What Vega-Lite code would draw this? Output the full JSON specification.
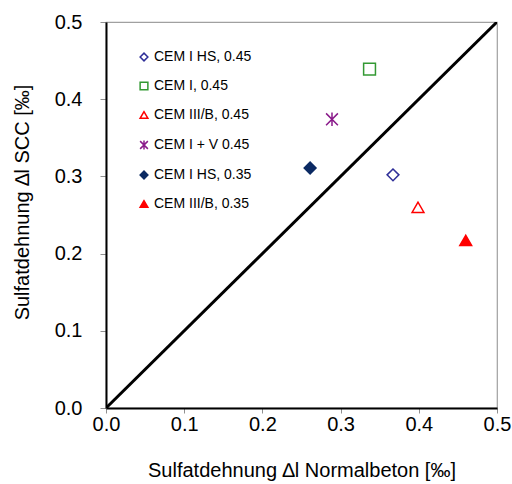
{
  "$schema": "https://vega.github.io/schema/vega-lite/v6.json",
  "width": 391,
  "height": 386,
  "autosize": {"type": "none"},
  "padding": {"left": 106, "top": 22, "right": 15, "bottom": 76},
  "background": "white",
  "config": {
    "font": "Liberation Sans",
    "view": {"stroke": "#a0a0a0", "strokeWidth": 1.2},
    "axis": {
      "grid": false,
      "labelFlush": false,
      "labelOverlap": false,
      "domainColor": "black",
      "domainWidth": 2,
      "tickColor": "#909090",
      "tickWidth": 1,
      "labelFont": "Liberation Sans",
      "titleFont": "Liberation Sans",
      "labelFontSize": 20,
      "titleFontSize": 20,
      "labelColor": "black",
      "titleColor": "black",
      "titleFontWeight": "normal"
    },
    "legend": {
      "orient": "none",
      "legendX": 31,
      "legendY": 28,
      "padding": 0,
      "labelFont": "Liberation Sans",
      "labelFontSize": 14,
      "labelColor": "black",
      "symbolSize": 60,
      "symbolStrokeWidth": 1.5,
      "rowPadding": 15,
      "labelOffset": 3,
      "labelLimit": 300
    }
  },
  "datasets": {
    "points": [
      {"nb": 0.367, "scc": 0.302, "series": "CEM I HS, 0.45"},
      {"nb": 0.337, "scc": 0.439, "series": "CEM I, 0.45"},
      {"nb": 0.399, "scc": 0.26, "series": "CEM III/B, 0.45"},
      {"nb": 0.289, "scc": 0.374, "series": "CEM I + V 0.45"},
      {"nb": 0.261, "scc": 0.311, "series": "CEM I HS, 0.35"},
      {"nb": 0.46, "scc": 0.217, "series": "CEM III/B, 0.35"}
    ],
    "diagonal": [
      {"nb": 0, "scc": 0},
      {"nb": 0.5, "scc": 0.5}
    ]
  },
  "layer": [
    {
      "data": {"name": "diagonal"},
      "mark": {"type": "line", "color": "black", "strokeWidth": 3, "clip": true},
      "encoding": {
        "x": {"field": "nb", "type": "quantitative"},
        "y": {"field": "scc", "type": "quantitative"}
      }
    },
    {
      "data": {"name": "points"},
      "mark": {"type": "point", "size": 140, "strokeWidth": 1.5, "opacity": 1},
      "encoding": {
        "x": {
          "field": "nb",
          "type": "quantitative",
          "scale": {"domain": [0, 0.5], "nice": false, "zero": true},
          "axis": {
            "values": [0, 0.1, 0.2, 0.3, 0.4, 0.5],
            "format": ".1f",
            "tickSize": 5,
            "labelPadding": 1,
            "titlePadding": 26,
            "title": "Sulfatdehnung ∆l Normalbeton [‰]"
          }
        },
        "y": {
          "field": "scc",
          "type": "quantitative",
          "scale": {"domain": [0, 0.5], "nice": false, "zero": true},
          "axis": {
            "values": [0, 0.1, 0.2, 0.3, 0.4, 0.5],
            "format": ".1f",
            "tickSize": 6,
            "labelPadding": 18,
            "titlePadding": 22,
            "titleY": 180,
            "title": "Sulfatdehnung ∆l SCC [‰]"
          }
        },
        "shape": {
          "field": "series",
          "type": "nominal",
          "sort": null,
          "scale": {
            "domain": ["CEM I HS, 0.45", "CEM I, 0.45", "CEM III/B, 0.45", "CEM I + V 0.45", "CEM I HS, 0.35", "CEM III/B, 0.35"],
            "range": ["diamond", "square", "triangle-up", "M-1,-1L1,1M1,-1L-1,1M0,-1.15L0,1.15", "diamond", "triangle-up"]
          },
          "legend": {"title": null}
        },
        "stroke": {
          "field": "series",
          "type": "nominal",
          "sort": null,
          "scale": {
            "domain": ["CEM I HS, 0.45", "CEM I, 0.45", "CEM III/B, 0.45", "CEM I + V 0.45", "CEM I HS, 0.35", "CEM III/B, 0.35"],
            "range": ["#2e2e98", "#339933", "#ff0000", "#8a1a8a", "#0b2a63", "#ff0000"]
          },
          "legend": {"title": null}
        },
        "fill": {
          "field": "series",
          "type": "nominal",
          "sort": null,
          "scale": {
            "domain": ["CEM I HS, 0.45", "CEM I, 0.45", "CEM III/B, 0.45", "CEM I + V 0.45", "CEM I HS, 0.35", "CEM III/B, 0.35"],
            "range": ["transparent", "transparent", "transparent", "transparent", "#0b2a63", "#ff0000"]
          },
          "legend": {"title": null}
        }
      }
    }
  ]
}
